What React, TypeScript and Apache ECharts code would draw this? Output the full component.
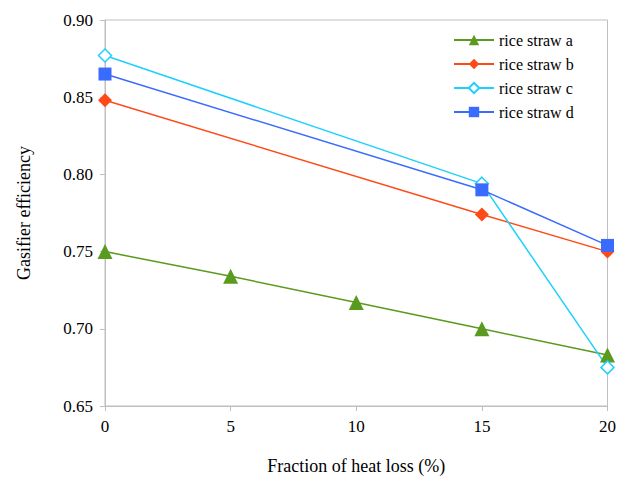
import React, { useEffect, useRef } from "react";
import * as echarts from "echarts";

const xValues = [0, 5, 10, 15, 20];
const strawA = [[0, 0.750], [5, 0.734], [10, 0.717], [15, 0.700], [20, 0.683]];
const strawB = [[0, 0.848], [15, 0.774], [20, 0.750]];
const strawC = [[0, 0.877], [15, 0.794], [20, 0.675]];
const strawD = [[0, 0.865], [15, 0.790], [20, 0.754]];
const seriesNames = ["rice straw a", "rice straw b", "rice straw c", "rice straw d"];

export default function App() {
  const ref = useRef<HTMLDivElement>(null);
  useEffect(() => {
    document.body.style.margin = "0";
    const chart = echarts.init(ref.current!, null, { renderer: "svg" });
    const font = "'Liberation Serif', serif";
    const axisColor = "#bfbfbf";
    chart.setOption({
      animation: false,
      backgroundColor: "#ffffff",
      textStyle: { fontFamily: font },
      grid: {
        left: 105,
        right: 9,
        top: 20,
        bottom: 72,
        show: true,
        borderColor: axisColor,
        borderWidth: 1,
      },
      legend: {
        orient: "vertical",
        left: 448,
        top: 27,
        itemWidth: 40,
        itemHeight: 13,
        itemGap: 8,
        data: seriesNames,
        textStyle: { fontFamily: font, fontSize: 16, color: "#000" },
      },
      xAxis: {
        type: "value",
        min: 0,
        max: 20,
        interval: 5,
        name: "Fraction of heat loss (%)",
        nameLocation: "middle",
        nameGap: 51,
        nameTextStyle: { fontFamily: font, fontSize: 18, color: "#000" },
        axisLine: { show: true, lineStyle: { color: axisColor } },
        axisTick: { show: true, length: 5, lineStyle: { color: axisColor } },
        axisLabel: { fontFamily: font, fontSize: 17, color: "#000", margin: 12 },
        splitLine: { show: false },
      },
      yAxis: {
        type: "value",
        min: 0.65,
        max: 0.9,
        interval: 0.05,
        name: "Gasifier efficiency",
        nameLocation: "middle",
        nameGap: 72,
        nameTextStyle: { fontFamily: font, fontSize: 18, color: "#000" },
        axisLine: { show: true, lineStyle: { color: axisColor } },
        axisTick: { show: true, length: 5, lineStyle: { color: axisColor } },
        axisLabel: {
          fontFamily: font,
          fontSize: 17,
          color: "#000",
          margin: 12,
          formatter: (v: number) => v.toFixed(2),
        },
        splitLine: { show: false },
      },
      series: [
        {
          name: seriesNames[0],
          type: "line",
          data: strawA,
          symbol: "triangle",
          symbolSize: 15,
          lineStyle: { color: "#5a9a1e", width: 1.5 },
          itemStyle: { color: "#5a9a1e" },
        },
        {
          name: seriesNames[1],
          type: "line",
          data: strawB,
          symbol: "diamond",
          symbolSize: 14,
          lineStyle: { color: "#ff4a17", width: 1.5 },
          itemStyle: { color: "#ff4a17" },
        },
        {
          name: seriesNames[2],
          type: "line",
          data: strawC,
          symbol: "diamond",
          symbolSize: 13,
          lineStyle: { color: "#1fd0ff", width: 1.5 },
          itemStyle: { color: "#ffffff", borderColor: "#1fd0ff", borderWidth: 1.5 },
        },
        {
          name: seriesNames[3],
          type: "line",
          data: strawD,
          symbol: "rect",
          symbolSize: 13,
          lineStyle: { color: "#3a6bff", width: 1.5 },
          itemStyle: { color: "#3a6bff" },
        },
      ],
    });
    return () => chart.dispose();
  }, []);
  return <div ref={ref} style={{ width: 619, height: 480 }} />;
}
